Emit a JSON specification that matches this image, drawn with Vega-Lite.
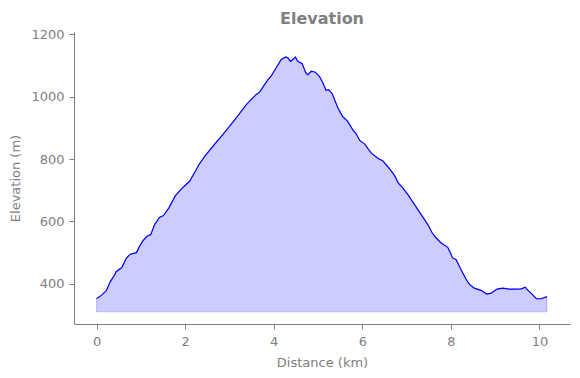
{
  "$schema": "https://vega.github.io/schema/vega-lite/v6.json",
  "width": 496,
  "height": 292,
  "autosize": "none",
  "padding": {"left": 74, "top": 32, "right": 10, "bottom": 54},
  "background": "white",
  "config": {
    "view": {"stroke": null},
    "font": "DejaVu Sans",
    "axis": {
      "grid": false,
      "domainColor": "#808080",
      "tickColor": "#808080",
      "labelColor": "#808080",
      "titleColor": "#808080",
      "labelFont": "DejaVu Sans",
      "titleFont": "DejaVu Sans",
      "labelFontSize": 13,
      "titleFontSize": 13,
      "titleFontWeight": "normal",
      "tickSize": 5,
      "format": "d"
    }
  },
  "title": {
    "text": "Elevation",
    "font": "DejaVu Sans",
    "fontSize": 16,
    "fontWeight": "bold",
    "color": "#808080",
    "anchor": "middle",
    "offset": 1
  },
  "data": {
    "values": [
      {"distance": 0, "elevation": 353},
      {"distance": 0.1, "elevation": 362},
      {"distance": 0.22, "elevation": 378},
      {"distance": 0.31, "elevation": 407},
      {"distance": 0.41, "elevation": 429},
      {"distance": 0.44, "elevation": 439},
      {"distance": 0.57, "elevation": 452},
      {"distance": 0.67, "elevation": 482},
      {"distance": 0.76, "elevation": 495},
      {"distance": 0.9, "elevation": 500},
      {"distance": 0.97, "elevation": 520},
      {"distance": 1.05, "elevation": 539},
      {"distance": 1.16, "elevation": 555},
      {"distance": 1.22, "elevation": 557},
      {"distance": 1.31, "elevation": 590},
      {"distance": 1.42, "elevation": 613},
      {"distance": 1.51, "elevation": 619},
      {"distance": 1.63, "elevation": 643},
      {"distance": 1.78, "elevation": 683},
      {"distance": 1.91, "elevation": 704},
      {"distance": 2.1, "elevation": 729},
      {"distance": 2.23, "elevation": 761},
      {"distance": 2.31, "elevation": 782},
      {"distance": 2.44, "elevation": 809},
      {"distance": 2.66, "elevation": 847},
      {"distance": 2.85, "elevation": 879},
      {"distance": 3.0, "elevation": 905},
      {"distance": 3.15, "elevation": 932},
      {"distance": 3.38, "elevation": 975},
      {"distance": 3.6, "elevation": 1007},
      {"distance": 3.68, "elevation": 1015},
      {"distance": 3.87, "elevation": 1055},
      {"distance": 3.94, "elevation": 1066},
      {"distance": 4.17, "elevation": 1120},
      {"distance": 4.27, "elevation": 1128},
      {"distance": 4.32, "elevation": 1125},
      {"distance": 4.38, "elevation": 1114},
      {"distance": 4.45, "elevation": 1122},
      {"distance": 4.49, "elevation": 1128},
      {"distance": 4.54, "elevation": 1114},
      {"distance": 4.64, "elevation": 1107},
      {"distance": 4.73, "elevation": 1075},
      {"distance": 4.77, "elevation": 1071},
      {"distance": 4.85, "elevation": 1082},
      {"distance": 4.94, "elevation": 1079},
      {"distance": 5.03, "elevation": 1066},
      {"distance": 5.11, "elevation": 1045},
      {"distance": 5.18, "elevation": 1021},
      {"distance": 5.24, "elevation": 1023},
      {"distance": 5.32, "elevation": 1010},
      {"distance": 5.45, "elevation": 964},
      {"distance": 5.56, "elevation": 936},
      {"distance": 5.67, "elevation": 921},
      {"distance": 5.79, "elevation": 893},
      {"distance": 5.86, "elevation": 882},
      {"distance": 5.94, "elevation": 860},
      {"distance": 6.05, "elevation": 849},
      {"distance": 6.2, "elevation": 820},
      {"distance": 6.35, "elevation": 803},
      {"distance": 6.46, "elevation": 795},
      {"distance": 6.61, "elevation": 770},
      {"distance": 6.73, "elevation": 747},
      {"distance": 6.81, "elevation": 724},
      {"distance": 6.92, "elevation": 707},
      {"distance": 7.03, "elevation": 686},
      {"distance": 7.18, "elevation": 654},
      {"distance": 7.33, "elevation": 622},
      {"distance": 7.48, "elevation": 590},
      {"distance": 7.58, "elevation": 563},
      {"distance": 7.67, "elevation": 547},
      {"distance": 7.78, "elevation": 531},
      {"distance": 7.93, "elevation": 517},
      {"distance": 8.04, "elevation": 483},
      {"distance": 8.12, "elevation": 477},
      {"distance": 8.23, "elevation": 445},
      {"distance": 8.35, "elevation": 413},
      {"distance": 8.42, "elevation": 398},
      {"distance": 8.53, "elevation": 386},
      {"distance": 8.68, "elevation": 379},
      {"distance": 8.81, "elevation": 367},
      {"distance": 8.91, "elevation": 370},
      {"distance": 9.04, "elevation": 383},
      {"distance": 9.17, "elevation": 386},
      {"distance": 9.32, "elevation": 383},
      {"distance": 9.47, "elevation": 383},
      {"distance": 9.59, "elevation": 384},
      {"distance": 9.68, "elevation": 389},
      {"distance": 9.74, "elevation": 379},
      {"distance": 9.81, "elevation": 370},
      {"distance": 9.93, "elevation": 352},
      {"distance": 10.04, "elevation": 352},
      {"distance": 10.17, "elevation": 359}
    ]
  },
  "encoding": {
    "x": {
      "field": "distance",
      "type": "quantitative",
      "title": "Distance (km)",
      "scale": {"domain": [-0.51, 10.69], "nice": false, "zero": false},
      "axis": {"values": [0, 2, 4, 6, 8, 10], "labelPadding": 6, "titlePadding": 8}
    }
  },
  "layer": [
    {
      "mark": {"type": "area", "fill": "#0000ff", "fillOpacity": 0.2, "stroke": "#0000ff", "strokeOpacity": 0.2, "strokeWidth": 1},
      "encoding": {
        "y": {
          "field": "elevation",
          "type": "quantitative",
          "title": "Elevation (m)",
          "scale": {"domain": [271, 1208], "nice": false, "zero": false},
          "axis": {"values": [400, 600, 800, 1000, 1200], "labelPadding": 5, "titlePadding": 8}
        },
        "y2": {"datum": 310}
      }
    },
    {
      "mark": {"type": "line", "color": "#0000ff", "strokeWidth": 1.2},
      "encoding": {
        "y": {"field": "elevation", "type": "quantitative"}
      }
    }
  ]
}
